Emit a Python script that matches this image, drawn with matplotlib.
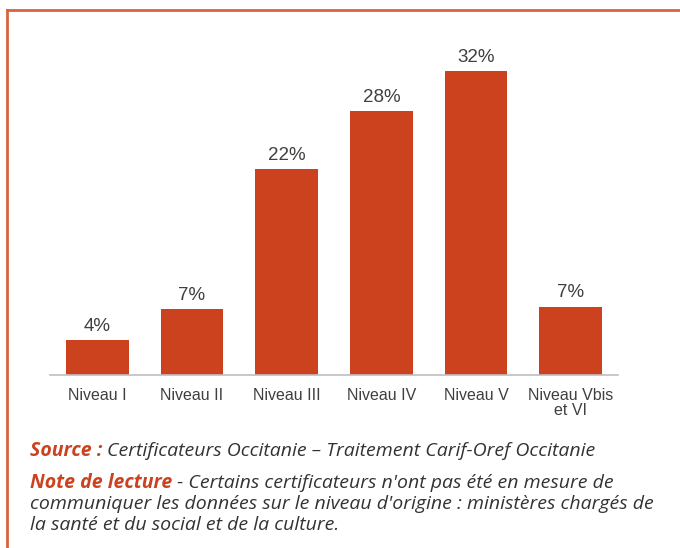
#!/usr/bin/env python3
"""
Répartition par niveau d'origine - certificateurs Occitanie
"""

import matplotlib.pyplot as plt
from matplotlib.lines import Line2D

niveaux = ['Niveau I', 'Niveau II', 'Niveau III', 'Niveau IV', 'Niveau V',
           'Niveau Vbis\net VI']
parts = [3.7, 6.9, 21.7, 27.8, 32.0, 7.2]

source_titre = 'Source :'
source_texte = 'Certificateurs Occitanie – Traitement Carif-Oref Occitanie'
note_titre = 'Note de lecture'
note_texte = [' - Certains certificateurs n\'ont pas été en mesure de',
              'communiquer les données sur le niveau d\'origine : ministères chargés de',
              'la santé et du social et de la culture.']

ROUGE = '#cc411e'
GRIS = '#404040'


def texte_suivi(fig, x, y, morceaux, **kw):
    """Écrit plusieurs morceaux de texte les uns après les autres sur une ligne"""
    renderer = fig.canvas.get_renderer()
    for s, props in morceaux:
        t = fig.text(x, y, s, va='baseline', ha='left', **kw, **props)
        bb = t.get_window_extent(renderer=renderer)
        x += bb.width / fig.bbox.width


fig = plt.figure(figsize=(6.8, 5.48), dpi=100)

# Cadre (gauche + haut)
fig.add_artist(Line2D([6.5 / 680, 6.5 / 680], [0, 1 - 9.5 / 548],
                      transform=fig.transFigure, color='#d9633f', lw=2))
fig.add_artist(Line2D([6.5 / 680, 1], [1 - 9.5 / 548, 1 - 9.5 / 548],
                      transform=fig.transFigure, color='#d9633f', lw=2))

ax = fig.add_axes([50 / 680, (548 - 375) / 548, 568 / 680, 332.5 / 548])
x = range(len(niveaux))
bars = ax.bar(x, parts, width=0.665, color=ROUGE)
for b, v in zip(bars, parts):
    ax.text(b.get_x() + b.get_width() / 2, v + 0.55, f'{v:.0f}%',
            ha='center', va='bottom', fontsize=13.5, color=GRIS,
            family='Liberation Sans')

ax.set_xlim(-0.5, len(niveaux) - 0.5)
ax.set_ylim(0, 35)
ax.set_xticks(list(x))
ax.set_xticklabels(niveaux, fontsize=11.5, color=GRIS, family='Liberation Sans',
                   linespacing=1.05)
ax.tick_params(axis='x', length=0, pad=9)
ax.set_yticks([])
for s in ['top', 'right', 'left']:
    ax.spines[s].set_visible(False)
ax.spines['bottom'].set_color('#bfbfbf')
ax.spines['bottom'].set_linewidth(1.2)

# Source et note de lecture
x0 = 30 / 680
fs = 14
police = dict(family='Open Sans', style='italic', fontsize=fs)
texte_suivi(fig, x0, 1 - 456 / 548,
            [(source_titre + ' ', dict(color=ROUGE, weight='bold')),
             (source_texte, dict(color='#333333'))], **police)
texte_suivi(fig, x0, 1 - 488 / 548,
            [(note_titre, dict(color=ROUGE, weight='bold')),
             (note_texte[0], dict(color='#333333'))], **police)
for i, ligne in enumerate(note_texte[1:]):
    fig.text(x0, 1 - (509 + 21 * i) / 548, ligne, va='baseline', ha='left',
             color='#333333', **police)

plt.savefig('out.png', dpi=100)
plt.close()
